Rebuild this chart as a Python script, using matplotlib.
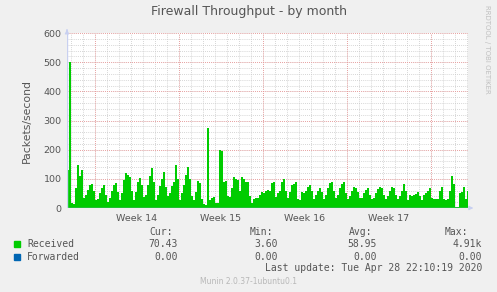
import numpy as np
import matplotlib.pyplot as plt

# Received packets/second, one sample per 4 hours
received = [130, 500, 16, 15, 70, 146, 110, 132, 34, 45, 62, 78, 84, 60, 28, 30, 50, 70, 78, 45,
            22, 35, 60, 80, 86, 55, 28, 50, 95, 120, 112, 108, 60, 28, 55, 90, 103, 80, 37, 45,
            80, 110, 137, 90, 28, 45, 75, 100, 123, 73, 40, 50, 74, 90, 147, 100, 28, 50, 80, 114,
            141, 100, 40, 28, 55, 92, 85, 30, 14, 10, 275, 28, 33, 37, 16, 16, 200, 195, 90, 92,
            40, 39, 70, 107, 100, 95, 60, 107, 100, 90, 88, 40, 16, 30, 33, 35, 45, 56, 50, 58,
            61, 60, 85, 90, 39, 50, 60, 90, 98, 60, 33, 55, 78, 84, 90, 30, 27, 56, 50, 60,
            73, 78, 60, 30, 45, 60, 67, 55, 30, 45, 70, 85, 90, 60, 33, 45, 70, 84, 90, 50,
            30, 40, 60, 73, 70, 55, 33, 35, 50, 61, 67, 45, 30, 33, 50, 65, 73, 70, 45, 30,
            40, 60, 73, 70, 45, 30, 40, 60, 82, 60, 28, 44, 40, 44, 48, 56, 40, 28, 45, 50,
            60, 67, 35, 30, 32, 30, 60, 73, 30, 28, 30, 60, 109, 84, 3, 3, 50, 56, 73, 30, 60]
forwarded = [0] * len(received)

weeks = ['Week 14', 'Week 15', 'Week 16', 'Week 17']
yticks = [0, 100, 200, 300, 400, 500, 600]

rows = [('Received', '#00CC00', '70.43', '3.60', '58.95', '4.91k'),
        ('Forwarded', '#0066B3', '0.00', '0.00', '0.00', '0.00')]

t = np.arange(len(received)) / 6.0 + 1 / 12.0  # days
first_week = 28 / 12.0                          # first week boundary, days after start
xmax = 401 / 12.0

fig = plt.figure(figsize=(4.97, 2.92), dpi=100, facecolor='#F0F0F0')
ax = fig.add_axes([67 / 497, 84 / 292, 401 / 497, 175 / 292])
ax.set_facecolor('white')

ax.fill_between(t, 0, received, step='mid', color='#00CC00', lw=0, zorder=2)
ax.step(t, forwarded, where='mid', color='#0066B3', lw=0.8, zorder=2)

ax.set_xlim(0, xmax)
ax.set_ylim(0, 600)

# grid: minor every day / 20 units, major every week / 100 units
dots = (0, (1, 1.5))
for d in np.arange(first_week - 2, xmax, 1.0):
    ax.axvline(d, color='#c8c8c8', lw=0.6, ls=dots, zorder=0)
for y in range(0, 601, 20):
    ax.axhline(y, color='#c8c8c8', lw=0.6, ls=dots, zorder=0)
for d in np.arange(first_week, xmax, 7.0):
    ax.axvline(d, color='#f09090', lw=0.6, ls=dots, zorder=0.5)
for y in yticks:
    ax.axhline(y, color='#f09090', lw=0.6, ls=dots, zorder=0.5)

ax.set_yticks(yticks)
ax.set_xticks([first_week + 3.5 + 7 * i for i in range(len(weeks))])
ax.set_xticklabels(weeks)
ax.tick_params(axis='both', length=0, labelsize=6.8, colors='#555555', pad=4)
for s in ax.spines.values():
    s.set_visible(False)
ax.axhline(0, color='#a0a8e0', lw=1.0, zorder=3)
ax.axvline(0, color='#c8d0f0', lw=1.0, zorder=3)
ax.annotate('', xy=(0, 622), xytext=(0, 600), annotation_clip=False,
            arrowprops=dict(arrowstyle='-|>', color='#c8d0f0', lw=0.8, mutation_scale=6))
ax.annotate('', xy=(xmax + 0.45, 0), xytext=(xmax, 0), annotation_clip=False,
            arrowprops=dict(arrowstyle='-|>', color='#c8d0f0', lw=0.8, mutation_scale=6))

ax.set_ylabel('Packets/second', fontsize=7.8, color='#555555', labelpad=8)

fig.text(249 / 497, 1 - 12 / 292, 'Firewall Throughput - by month', ha='center', va='center',
         fontsize=9, color='#555555')
fig.text(487 / 497, 1 - 5 / 292, 'RRDTOOL / TOBI OETIKER', rotation=270, ha='center', va='top',
         fontsize=5, color='#c0c0c0')

mono = dict(family='DejaVu Sans Mono', fontsize=7, color='#555555', va='center')
hy = 1 - 232 / 292
fig.text(149 / 497, hy, 'Cur:', **mono)
fig.text(250 / 497, hy, 'Min:', **mono)
fig.text(349 / 497, hy, 'Avg:', **mono)
fig.text(445 / 497, hy, 'Max:', **mono)
for i, (name, col, cur, mn, avg, mx) in enumerate(rows):
    y = 1 - (244 + 12.5 * i) / 292
    fig.patches.append(plt.Rectangle((14 / 497, y - 3 / 292), 6 / 497, 6 / 292,
                                     transform=fig.transFigure, color=col))
    fig.text(27 / 497, y, name, **mono)
    fig.text(178 / 497, y, cur, ha='right', **mono)
    fig.text(278 / 497, y, mn, ha='right', **mono)
    fig.text(377 / 497, y, avg, ha='right', **mono)
    fig.text(482 / 497, y, mx, ha='right', **mono)
fig.text(482 / 497, 1 - 268 / 292, 'Last update: Tue Apr 28 22:10:19 2020', ha='right', **mono)
fig.text(249 / 497, 1 - 281 / 292, 'Munin 2.0.37-1ubuntu0.1', ha='center', va='center',
         fontsize=5.5, color='#b8b8b8')

fig.savefig('out.png', dpi=100, facecolor='#F0F0F0')
